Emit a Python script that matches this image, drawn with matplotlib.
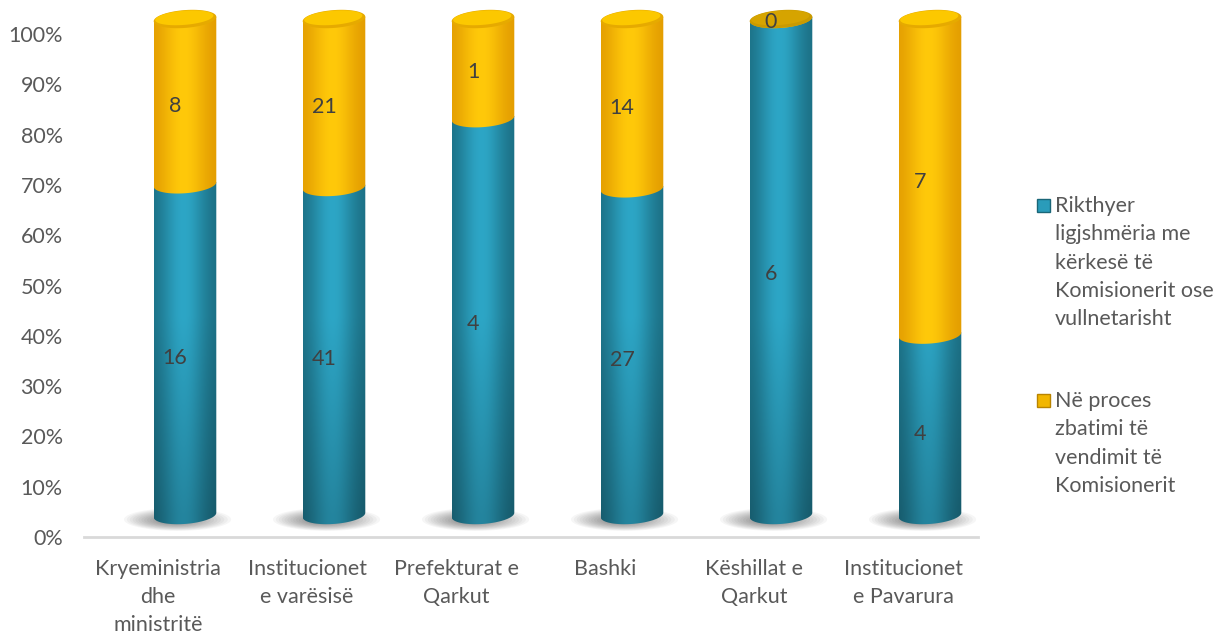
import numpy as np
import matplotlib
matplotlib.use("Agg")
import matplotlib.pyplot as plt
from matplotlib.patches import Polygon, Rectangle
from matplotlib.colors import to_rgb

# ---------------- data ----------------
categories = ["Kryeministria\ndhe\nministritë", "Institucionet\ne varësisë",
              "Prefekturat e\nQarkut", "Bashki", "Këshillat e\nQarkut",
              "Institucionet\ne Pavarura"]
rikthyer = [16, 41, 4, 27, 6, 4]
ne_proces = [8, 21, 1, 14, 0, 7]
series_names = ["Rikthyer\nligjshmëria me\nkërkesë të\nKomisionerit ose\nvullnetarisht",
                "Në proces\nzbatimi të\nvendimit të\nKomisionerit"]
yticks = list(range(0, 101, 10))
ytick_labels = [f"{v}%" for v in yticks]

# ---------------- style ----------------
FONT = "Lato"
FS = 15.5
TXT = "#595959"
plt.rcParams["font.family"] = [FONT, "DejaVu Sans"]

W, H, DPI = 1231, 637, 100
fig = plt.figure(figsize=(W / DPI, H / DPI), dpi=DPI)

tot = np.array(rikthyer, float) + np.array(ne_proces, float)
p1 = np.array(rikthyer) / tot * 100
p2 = np.array(ne_proces) / tot * 100
x = np.arange(len(categories))
XL = (-0.5, len(categories) - 0.5)

# main axes (ticks, labels, axis line)
ax = fig.add_axes([83.5 / W, 100 / H, 894 / W, 503 / H])
ax.set_xlim(*XL)
ax.set_ylim(0, 100)
ax.set_yticks(yticks)
ax.set_yticklabels(ytick_labels)
ax.set_xticks(x)
ax.set_xticklabels(categories, linespacing=1.52)
ax.tick_params(axis="both", length=0, labelsize=FS, labelcolor=TXT)
ax.tick_params(axis="y", pad=15)
ax.tick_params(axis="x", pad=15.5)
for s in ["top", "right", "left"]:
    ax.spines[s].set_visible(False)
ax.spines["bottom"].set_color("#D9D9D9")
ax.spines["bottom"].set_linewidth(2)
ax.patch.set_alpha(0)

# bar axes (3D-offset cylinders); 0 -> 515 px, 100 -> 19 px
PPU = 4.96
Y0, Y1 = -8, 108
ax2 = fig.add_axes([110.5 / W, (H - 515 - (-Y0) * PPU) / H, 894 / W, (Y1 - Y0) * PPU / H])
ax2.set_xlim(*XL)
ax2.set_ylim(Y0, Y1)
ax2.axis("off")
ax2.patch.set_alpha(0)

BW = 0.42
EH = 1.8     # half height of cylinder ellipses (data units)
SH = 0.45    # tilt: right side higher (data units)

bars1 = ax2.bar(x, p1, BW, color="none", edgecolor="none")
bars2 = ax2.bar(x, p2, BW, bottom=p1, color="none", edgecolor="none")

teal_light, teal_dark = np.array(to_rgb("#2DA6C6")), np.array(to_rgb("#1A6A7E"))
yel_light, yel_dark = np.array(to_rgb("#FFC90A")), np.array(to_rgb("#E09800"))


def gradient(light, dark, ylo, yhi, vertical_dark=False, nx=90, ny=160):
    t = np.linspace(0, 1, nx)
    g = np.exp(-((t - 0.47) / 0.36) ** 2)
    ys = np.linspace(ylo, yhi, ny)
    col = dark[None, None, :] + (light - dark)[None, None, :] * g[None, :, None]
    col = np.repeat(col, ny, axis=0)
    if vertical_dark:
        f = 0.8 + 0.2 * np.clip(ys / 40, 0, 1)
        col = col * f[:, None, None]
    return np.clip(col, 0, 1)


def ellipse_pts(c, hw, yc, eh, th):
    xs = c + hw * np.cos(th)
    ys = yc + eh * np.sin(th) + SH * np.cos(th)
    return np.column_stack([xs, ys])


def cylinder_segment(rect, light, dark, z, vertical_dark=False):
    c = rect.get_x() + rect.get_width() / 2
    hw = rect.get_width() / 2
    b = rect.get_y()
    t = b + rect.get_height()
    arc = ellipse_pts(c, hw, b, EH, np.linspace(np.pi, 2 * np.pi, 80))
    pts = np.vstack([[c - hw, t - SH], arc, [c + hw, t + SH]])
    poly = Polygon(pts, closed=True, facecolor="none", edgecolor="none", zorder=z)
    ax2.add_patch(poly)
    img = gradient(light, dark, b - EH - SH, t + SH, vertical_dark)
    im = ax2.imshow(img, extent=(c - hw, c + hw, b - EH - SH, t + SH), origin="lower",
                    aspect="auto", zorder=z, interpolation="bilinear")
    im.set_clip_path(poly)


# shadows (cast towards lower left)
for r in bars1:
    c = r.get_x() + r.get_width() / 2
    for k in range(16):
        s = 1 - k / 17
        th = np.linspace(0, 2 * np.pi, 80)
        pts = np.column_stack([c - 0.05 - 0.03 * (1 - s) + 0.36 * s * np.cos(th),
                               -0.9 - 0.3 * (1 - s) + 2.3 * s * np.sin(th)])
        ax2.add_patch(Polygon(pts, closed=True, facecolor="black", edgecolor="none",
                              alpha=0.035, zorder=1))

for r in bars1:
    cylinder_segment(r, teal_light, teal_dark, 3, vertical_dark=True)
for r in bars2:
    cylinder_segment(r, yel_light, yel_dark, 4)

# top caps
th = np.linspace(0, 2 * np.pi, 120)
for r2 in bars2:
    c = r2.get_x() + r2.get_width() / 2
    hw = r2.get_width() / 2
    top = r2.get_y() + r2.get_height()
    full = r2.get_height() > 0
    rim_col = "#E6AA00" if full else "#C99A00"
    cap_col = "#FCC800" if full else "#D6A400"
    ax2.add_patch(Polygon(ellipse_pts(c, hw, top, EH, th), closed=True,
                          facecolor=rim_col, edgecolor="none", zorder=5))
    ax2.add_patch(Polygon(ellipse_pts(c - 0.005, hw * 0.93, top + 0.25, EH * 0.8, th),
                          closed=True, facecolor=cap_col, edgecolor="none", zorder=5))

ax2.set_xlim(*XL)
ax2.set_ylim(Y0, Y1)

# label axes
ax3 = fig.add_axes([100.5 / W, 111 / H, 894 / W, 504 / H])
ax3.set_xlim(*XL)
ax3.set_ylim(0, 100)
ax3.axis("off")
ax3.patch.set_alpha(0)
for i in range(len(categories)):
    ax3.text(x[i], p1[i] / 2, str(rikthyer[i]), ha="center", va="center",
             fontsize=FS, color="#404040", zorder=10)
    ax3.text(x[i], p1[i] + p2[i] / 2, str(ne_proces[i]), ha="center", va="center",
             fontsize=FS, color="#404040", zorder=10)

# legend (manual)
leg_x = 1055 / W
baselines = [[212, 240, 269, 297, 325], [407, 435, 464, 492]]
mcols = [("#2A9CBA", "#1A6678"), ("#F2B600", "#B98400")]
for name, bl, (fc, ec) in zip(series_names, baselines, mcols):
    lines = name.split("\n")
    for ln, yb in zip(lines, bl):
        fig.text(leg_x, 1 - yb / H, ln, ha="left", va="baseline", fontsize=FS, color=TXT)
    yc = bl[0] - 6.5
    fig.patches.append(Rectangle((1037 / W, 1 - (yc + 6.5) / H), 13 / W, 13 / H,
                                 transform=fig.transFigure, facecolor=fc,
                                 edgecolor=ec, linewidth=1.0))

fig.savefig("out.png", dpi=DPI)
